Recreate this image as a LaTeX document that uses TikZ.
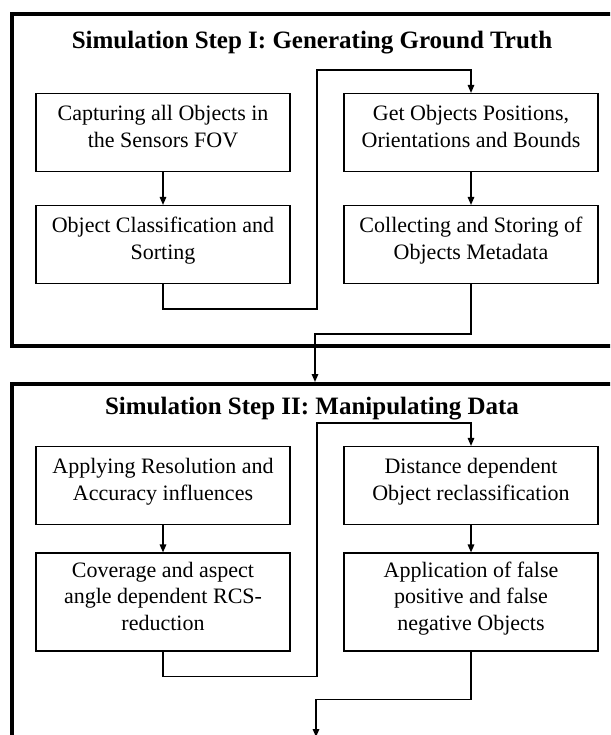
\documentclass[tikz,border=0pt]{standalone}
\usepackage{fontspec}
\setmainfont{Liberation Serif}
\usetikzlibrary{arrows.meta}

\tikzset{
  stepbox/.style={draw, line width=1.1pt, rectangle, inner sep=0pt,
    minimum width=254pt, minimum height=78pt, align=center,
    font=\fontsize{22}{26.5}\selectfont,
    % a deep strut on the last line lifts the text block a little
    execute at end node={\rule[-12pt]{0pt}{12pt}}},
  tallbox/.style={stepbox, minimum height=98pt},
  conn/.style={line width=1.5pt, -{Triangle[length=8pt,width=6.5pt]}},
  frame/.style={line width=4pt},
  heading/.style={anchor=base, inner sep=0pt,
    font=\fontsize{25}{30}\selectfont\bfseries}
}

\begin{document}
\begin{tikzpicture}[x=1pt, y=-1pt]
  \useasboundingbox (0,0) rectangle (610,735);
  \clip (0,0) rectangle (610,735);

  % outer frames of the two simulation stages
  \draw[frame] (11.5,14.5) rectangle (614,346);
  \draw[frame] (11.5,384) rectangle (614,770);

  % stage I
  \node[heading] (t1) at (312,49) {Simulation Step I: Generating Ground Truth};
  \node[stepbox] (A) at (163,132.5) {Capturing all Objects in\\the Sensors FOV};
  \node[stepbox] (B) at (471,132.5) {Get Objects Positions,\\Orientations and Bounds};
  \node[stepbox] (C) at (163,244.5) {Object Classification and\\Sorting};
  \node[stepbox] (D) at (471,244.5) {Collecting and Storing of\\Objects Metadata};

  % stage II
  \node[heading] (t2) at (312,414) {Simulation Step II: Manipulating Data};
  \node[stepbox] (E) at (163,485.5) {Applying Resolution and\\Accuracy influences};
  \node[stepbox] (F) at (471,485.5) {Distance dependent\\Object reclassification};
  \node[tallbox] (G) at (163,602) {Coverage and aspect\\angle dependent RCS-\\reduction};
  \node[tallbox] (H) at (471,602) {Application of false\\positive and false\\negative Objects};

  \coordinate (f2top) at (315,382);
  \coordinate (out) at (316,737);

  % flow inside stage I
  \draw[conn] (A) -- (C);
  \draw[conn] (C.south) -- ++(0,25) -| (317,70) -| (B.north);
  \draw[conn] (B) -- (D);
  \draw[conn] (D.south) -- ++(0,50) -| (f2top);

  % flow inside stage II
  \draw[conn] (E) -- (G);
  \draw[conn] (G.south) -- ++(0,25) -| (317,423) -| (F.north);
  \draw[conn] (F) -- (H);
  \draw[conn] (H.south) -- ++(0,48) -| (out);
\end{tikzpicture}
\end{document}
